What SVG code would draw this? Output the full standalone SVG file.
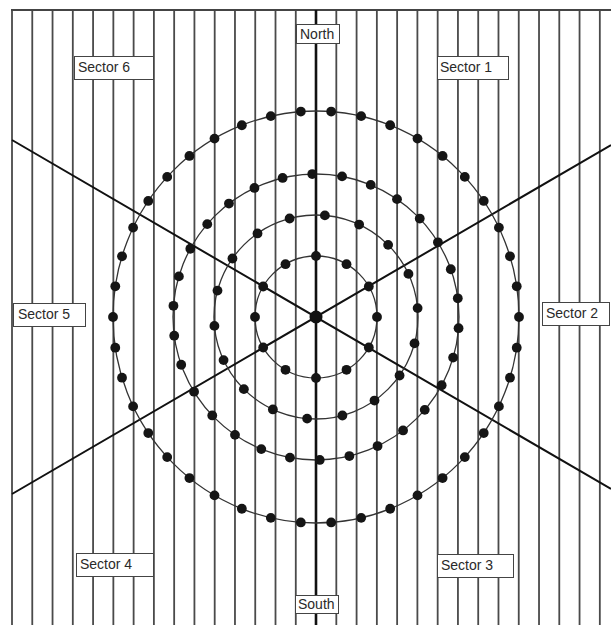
<svg xmlns="http://www.w3.org/2000/svg" width="611" height="625" viewBox="0 0 611 625">
<style>
.grid{stroke:#4a4a4a;stroke-width:1.8;fill:none}
.axis{stroke:#111;stroke-width:2.6;fill:none}
.diag{stroke:#111;stroke-width:2;fill:none}
.ring{stroke:#333;stroke-width:1.3;fill:none}
.dot{fill:#151515}
.dot circle{r:4.9px}
.box{fill:#fff;stroke:#444;stroke-width:1}
.lbl{font-family:"Liberation Sans",Arial,sans-serif;font-size:14px;fill:#2a2a2a}
</style>
<rect width="611" height="625" fill="#fff"/>
<g id="connectors">
<path class="grid" d="M12 10V625M32.27 10V625M52.54 10V625M72.81 10V625M93.08 10V625M113.35 10V625M133.62 10V625M153.89 10V625M174.16 10V625M194.43 10V625M214.7 10V625M234.97 10V625M255.24 10V625M275.51 10V625M295.78 10V625M336.32 10V625M356.59 10V625M376.86 10V625M397.13 10V625M417.4 10V625M437.67 10V625M457.94 10V625M478.21 10V625M498.48 10V625M518.75 10V625M539.02 10V625M559.29 10V625M579.56 10V625M599.83 10V625"/>
<path class="grid" d="M11 10H611" style="stroke-width:2;stroke:#444"/>
<path class="axis" d="M316 10V625"/>
<path class="diag" d="M12 140L611 489M12 494L611 145"/>
<ellipse class="ring" cx="316" cy="317" rx="203" ry="206"/>
<circle class="ring" cx="316" cy="317" r="143"/>
<circle class="ring" cx="316" cy="317" r="102"/>
<circle class="ring" cx="316" cy="317" r="61"/>
</g>
<g id="dots-outer" class="dot">
<circle cx="519" cy="317" r="4.9"/><circle cx="516.73" cy="286.3" r="4.9"/><circle cx="509.98" cy="256.28" r="4.9"/><circle cx="498.9" cy="227.62" r="4.9"/><circle cx="483.73" cy="200.96" r="4.9"/><circle cx="464.81" cy="176.88" r="4.9"/><circle cx="442.57" cy="155.94" r="4.9"/><circle cx="417.5" cy="138.6" r="4.9"/><circle cx="390.16" cy="125.24" r="4.9"/><circle cx="361.17" cy="116.16" r="4.9"/><circle cx="331.17" cy="111.58" r="4.9"/>
<circle cx="113" cy="317" r="4.9"/><circle cx="115.27" cy="286.3" r="4.9"/><circle cx="122.02" cy="256.28" r="4.9"/><circle cx="133.1" cy="227.62" r="4.9"/><circle cx="148.27" cy="200.96" r="4.9"/><circle cx="167.19" cy="176.88" r="4.9"/><circle cx="189.43" cy="155.94" r="4.9"/><circle cx="214.5" cy="138.6" r="4.9"/><circle cx="241.84" cy="125.24" r="4.9"/><circle cx="270.83" cy="116.16" r="4.9"/><circle cx="300.83" cy="111.58" r="4.9"/>
<circle cx="115.27" cy="347.7" r="4.9"/><circle cx="122.02" cy="377.72" r="4.9"/><circle cx="133.1" cy="406.38" r="4.9"/><circle cx="148.27" cy="433.04" r="4.9"/><circle cx="167.19" cy="457.12" r="4.9"/><circle cx="189.43" cy="478.06" r="4.9"/><circle cx="214.5" cy="495.4" r="4.9"/><circle cx="241.84" cy="508.76" r="4.9"/><circle cx="270.83" cy="517.84" r="4.9"/><circle cx="300.83" cy="522.42" r="4.9"/>
<circle cx="516.73" cy="347.7" r="4.9"/><circle cx="509.98" cy="377.72" r="4.9"/><circle cx="498.9" cy="406.38" r="4.9"/><circle cx="483.73" cy="433.04" r="4.9"/><circle cx="464.81" cy="457.12" r="4.9"/><circle cx="442.57" cy="478.06" r="4.9"/><circle cx="417.5" cy="495.4" r="4.9"/><circle cx="390.16" cy="508.76" r="4.9"/><circle cx="361.17" cy="517.84" r="4.9"/><circle cx="331.17" cy="522.42" r="4.9"/>
</g>
<g id="dots-ring2" class="dot">
<circle cx="457.78" cy="298.33" r="4.9"/><circle cx="450.8" cy="269.27" r="4.9"/><circle cx="437.93" cy="242.28" r="4.9"/><circle cx="419.73" cy="218.57" r="4.9"/><circle cx="397" cy="199.15" r="4.9"/><circle cx="370.72" cy="184.89" r="4.9"/><circle cx="342.06" cy="176.4" r="4.9"/><circle cx="312.26" cy="174.05" r="4.9"/><circle cx="282.62" cy="177.95" r="4.9"/><circle cx="254.44" cy="187.93" r="4.9"/><circle cx="228.95" cy="203.55" r="4.9"/><circle cx="207.26" cy="224.13" r="4.9"/><circle cx="190.33" cy="248.77" r="4.9"/><circle cx="178.89" cy="276.39" r="4.9"/><circle cx="173.44" cy="305.78" r="4.9"/>
<circle cx="174.22" cy="335.67" r="4.9"/><circle cx="181.2" cy="364.73" r="4.9"/><circle cx="194.07" cy="391.72" r="4.9"/><circle cx="212.27" cy="415.43" r="4.9"/><circle cx="235" cy="434.85" r="4.9"/><circle cx="261.28" cy="449.11" r="4.9"/><circle cx="289.94" cy="457.6" r="4.9"/><circle cx="319.74" cy="459.95" r="4.9"/><circle cx="349.38" cy="456.05" r="4.9"/><circle cx="377.56" cy="446.07" r="4.9"/><circle cx="403.05" cy="430.45" r="4.9"/><circle cx="424.74" cy="409.87" r="4.9"/><circle cx="441.67" cy="385.23" r="4.9"/><circle cx="453.11" cy="357.61" r="4.9"/><circle cx="458.56" cy="328.22" r="4.9"/>
</g>
<g id="dots-ring3" class="dot">
<circle cx="417.61" cy="308.11" r="4.9"/><circle cx="408.44" cy="273.89" r="4.9"/><circle cx="388.13" cy="244.87" r="4.9"/><circle cx="359.11" cy="224.56" r="4.9"/><circle cx="324.89" cy="215.39" r="4.9"/><circle cx="289.6" cy="218.48" r="4.9"/><circle cx="257.5" cy="233.45" r="4.9"/><circle cx="232.45" cy="258.5" r="4.9"/><circle cx="217.48" cy="290.6" r="4.9"/>
<circle cx="214.39" cy="325.89" r="4.9"/><circle cx="223.56" cy="360.11" r="4.9"/><circle cx="243.87" cy="389.13" r="4.9"/><circle cx="272.89" cy="409.44" r="4.9"/><circle cx="307.11" cy="418.61" r="4.9"/><circle cx="342.4" cy="415.52" r="4.9"/><circle cx="374.5" cy="400.55" r="4.9"/><circle cx="399.55" cy="375.5" r="4.9"/><circle cx="414.52" cy="343.4" r="4.9"/>
</g>
<g id="dots-ring4" class="dot">
<circle cx="377" cy="317" r="4.9"/><circle cx="368.83" cy="286.5" r="4.9"/><circle cx="346.5" cy="264.17" r="4.9"/><circle cx="316" cy="256" r="4.9"/><circle cx="285.5" cy="264.17" r="4.9"/><circle cx="263.17" cy="286.5" r="4.9"/><circle cx="255" cy="317" r="4.9"/><circle cx="263.17" cy="347.5" r="4.9"/><circle cx="285.5" cy="369.83" r="4.9"/><circle cx="316" cy="378" r="4.9"/><circle cx="346.5" cy="369.83" r="4.9"/><circle cx="368.83" cy="347.5" r="4.9"/>
</g>
<g id="center"><circle cx="316" cy="317" r="6.5" fill="#111"/></g>
<g id="north"><rect class="box" x="296.5" y="24.5" width="43" height="19"/><text class="lbl" x="300" y="38.5">North</text></g>
<g id="south"><rect class="box" x="295.5" y="595.5" width="43" height="18"/><text class="lbl" x="298" y="609">South</text></g>
<g id="sector1"><rect class="box" x="437.5" y="56.5" width="71" height="23"/><text class="lbl" x="440" y="72">Sector 1</text></g>
<g id="sector2"><rect class="box" x="542.5" y="302.5" width="67" height="23"/><text class="lbl" x="546" y="317.5">Sector 2</text></g>
<g id="sector3"><rect class="box" x="437.5" y="554.5" width="76" height="23"/><text class="lbl" x="441" y="570">Sector 3</text></g>
<g id="sector4"><rect class="box" x="76.5" y="553.5" width="77" height="23"/><text class="lbl" x="80" y="568.5">Sector 4</text></g>
<g id="sector5"><rect class="box" x="13.5" y="303.5" width="72" height="23"/><text class="lbl" x="18" y="319">Sector 5</text></g>
<g id="sector6"><rect class="box" x="74.5" y="56.5" width="79" height="23"/><text class="lbl" x="78" y="72">Sector 6</text></g>
</svg>
